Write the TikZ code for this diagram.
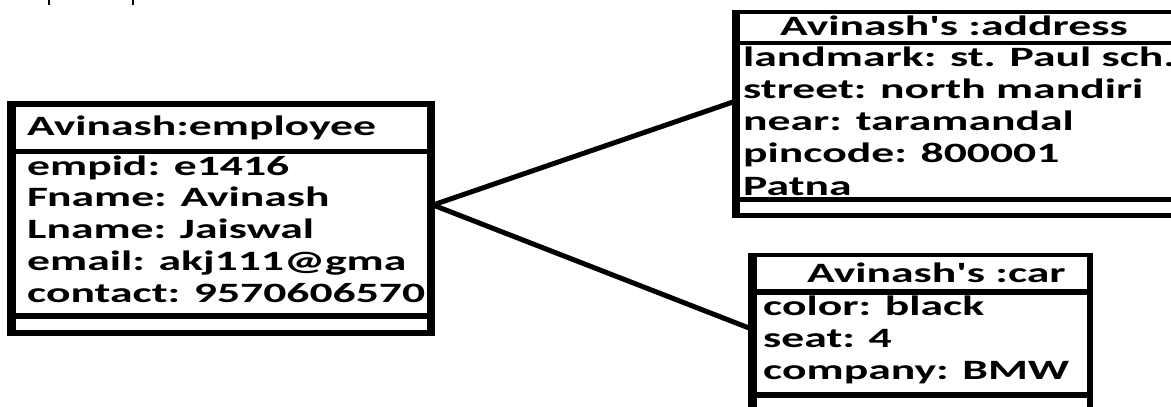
\documentclass[tikz,border=0pt]{standalone}
\usepackage{fontspec}
\newfontfamily\umlfont{Carlito}[FakeStretch=1.63]
\begin{document}
\begin{tikzpicture}[x=1pt,y=-1pt,
  txt/.style={anchor=base west,inner sep=0pt,font=\umlfont\bfseries\fontsize{28}{32}\selectfont},
  frame/.style={draw=black,line width=#1},
  link/.style={draw=black,line width=5pt},
  tick/.style={draw=black,line width=1.2pt}]
\useasboundingbox (0,0) rectangle (1171,407);

% small marks along the top edge
\coordinate (t1a) at (49,0); \coordinate (t1b) at (49,5);
\coordinate (t2a) at (133,0); \coordinate (t2b) at (133,5);
\draw[tick] (t1a) -- (t1b);
\draw[tick] (t2a) -- (t2b);

% ---------- Avinash:employee ----------
\begin{scope}
  \clip (16,107) rectangle (427,330);
  \node[txt] (emp-title) at (27,135) {Avinash:employee};
  \node[txt] (emp-a1) at (27,175) {empid: e1416};
  \node[txt] (emp-a2) at (27,206.75) {Fname: Avinash};
  \node[txt] (emp-a3) at (27,238.5) {Lname: Jaiswal};
  \node[txt] (emp-a4) at (27,270.25) {email: akj111@gma};
  \node[txt] (emp-a5) at (27,302) {contact: 9570606570};
\end{scope}
\draw[frame=6pt] (7,104) -- (435,104);
\draw[frame=9pt] (11.5,101) -- (11.5,336);
\draw[frame=8pt] (431,101) -- (431,336);
\draw[frame=5pt] (7,151.5) -- (435,151.5);
\draw[frame=6pt] (7,316) -- (435,316);
\draw[frame=6pt] (7,333) -- (435,333);

% ---------- Avinash's :address ----------
\node[txt] (adr-title) at (780,35) {Avinash's :address};
\node[txt] (adr-a1) at (743,66) {landmark: st. Paul sch.};
\node[txt] (adr-a2) at (743,98) {street: north mandiri};
\node[txt] (adr-a3) at (743,130) {near: taramandal};
\node[txt] (adr-a4) at (743,162.5) {pincode: 800001};
\node[txt] (adr-a5) at (743,195) {Patna};
\draw[frame=4pt] (732,12) -- (1180,12);
\draw[frame=8pt] (736,10) -- (736,218);
\draw[frame=4pt] (732,43) -- (1180,43);
\draw[frame=5pt] (732,199.5) -- (1180,199.5);
\draw[frame=5pt] (732,215.5) -- (1180,215.5);

% ---------- Avinash's :car ----------
\node[txt] (car-title) at (807,282) {Avinash's :car};
\node[txt] (car-a1) at (763,315) {color: black};
\node[txt] (car-a2) at (763,347) {seat: 4};
\node[txt] (car-a3) at (763,379) {company: BMW};
\draw[frame=4pt] (748,255) -- (1093,255);
\draw[frame=9pt] (752.5,253) -- (752.5,415);
\draw[frame=6pt] (1090,253) -- (1090,415);
\draw[frame=6pt] (748,291.5) -- (1093,291.5);
\draw[frame=6pt] (748,395) -- (1093,395);

% ---------- associations ----------
\coordinate (emp-r) at (433,205);
\coordinate (adr-l) at (733,102);
\coordinate (car-l) at (749,328);
\draw[link] (emp-r) -- (adr-l);
\draw[link] (emp-r) -- (car-l);
\end{tikzpicture}
\end{document}
